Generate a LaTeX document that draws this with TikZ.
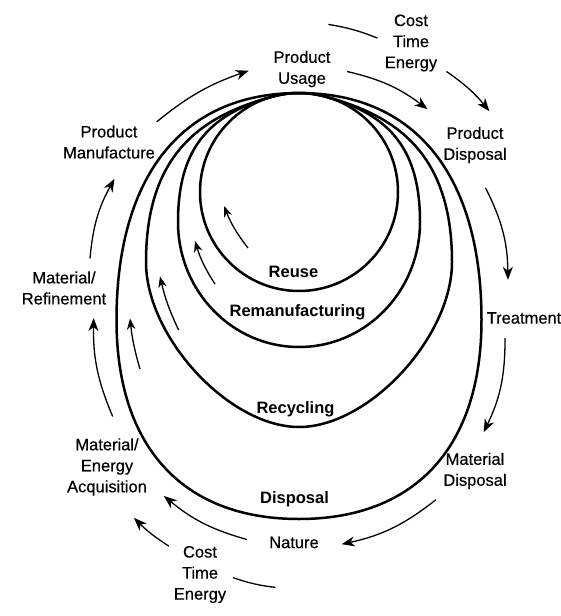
\documentclass[tikz,border=0pt]{standalone}
\usepackage{fontspec}
\setmainfont{Liberation Sans}
\newfontfamily\labfont[FakeBold=0.4]{Liberation Sans}
\usetikzlibrary{arrows.meta}
\begin{document}
\begin{tikzpicture}[x=1pt,y=-1pt,
  lab/.style={font=\labfont\fontsize{16.5}{21}\selectfont, align=center, inner sep=0pt},
  blab/.style={font=\fontsize{16.5}{21}\selectfont\bfseries, align=center, inner sep=0pt},
  loopline/.style={line width=2.5pt},
  arr/.style={line width=1.3pt, -{Stealth[length=13pt,width=10pt,inset=4pt]}},
  iarr/.style={line width=1.3pt, -{Stealth[length=11pt,width=8.5pt,inset=3.5pt]}},
  seg/.style={line width=1.3pt}]
\useasboundingbox (0,0) rectangle (561,616);
\fill[white] (0,0) rectangle (561,616);

% loops (all meet at the top)
\draw[loopline] (299,192) circle[radius=99];
\draw[loopline] (324.6,96.4) arc[start angle=-75, end angle=-105, radius=99]
  .. controls (205.8,114.5) and (178,152) .. (178,222)
  .. controls (178,291) and (232,347) .. (299,347)
  .. controls (366,347) and (420,291) .. (420,222)
  .. controls (420,152) and (392.2,114.5) .. (324.6,96.4) -- cycle;
\draw[loopline] (324.6,96.4) arc[start angle=-75, end angle=-105, radius=99]
  .. controls (205.8,114.5) and (146,150) .. (146,262)
  .. controls (146,337) and (229,427) .. (299,427)
  .. controls (369,427) and (452,337) .. (452,262)
  .. controls (452,150) and (392.2,114.5) .. (324.6,96.4) -- cycle;
\draw[loopline] (299,93) .. controls (179,93) and (116.5,180) .. (116.5,320)
  .. controls (116.5,445) and (181,519) .. (299,519)
  .. controls (417,519) and (481.5,445) .. (481.5,320)
  .. controls (481.5,180) and (419,93) .. (299,93) -- cycle;

% labels
\node[lab] (pu) at (302,69) {Product\\Usage};
\node[lab] (cost1) at (411,43) {Cost\\Time\\Energy};
\node[lab] (pd) at (475,145) {Product\\Disposal};
\node[lab] (tr) at (524,318) {Treatment};
\node[lab] (md) at (475,471) {Material\\Disposal};
\node[lab] (na) at (294,542.5) {Nature};
\node[lab] (cost2) at (200,574.5) {Cost\\Time\\Energy};
\node[lab] (mea) at (107,467) {Material/\\Energy\\Acquisition};
\node[lab] (mr) at (64,288) {Material/\\Refinement};
\node[lab] (pm) at (109,142) {Product\\Manufacture};

\node[blab] (reuse) at (293.5,272) {Reuse};
\node[blab] (reman) at (297.5,312) {Remanufacturing};
\node[blab] (recyc) at (295.5,409.5) {Recycling};
\node[blab] (disp) at (294.5,499) {Disposal};

% connector end points
\coordinate (a1s) at (156.7,121.8); \coordinate (a1e) at (248.7,70.7);
\coordinate (a2s) at (347,71.5);    \coordinate (a2e) at (427.5,109.2);
\coordinate (a3s) at (328.4,24.4);  \coordinate (a3m) at (377.5,38.1);
\coordinate (a3n) at (446.5,71.5);  \coordinate (a3e) at (489.4,111.2);
\coordinate (a4s) at (485.5,187.8); \coordinate (a4e) at (508,279.8);
\coordinate (a5s) at (505,338);     \coordinate (a5e) at (483.7,432.2);
\coordinate (a6s) at (435.8,499.8); \coordinate (a6e) at (341.7,544.2);
\coordinate (a7s) at (246.9,539.5); \coordinate (a7e) at (163.9,495.9);
\coordinate (a8s) at (275.5,587.4); \coordinate (a8m) at (233,577.6);
\coordinate (a8n) at (168.9,546.2); \coordinate (a8e) at (134,517.9);
\coordinate (a9s) at (112.7,416.5); \coordinate (a9e) at (93.7,318);
\coordinate (a10s) at (90,258.5);   \coordinate (a10e) at (114.5,178.8);

\draw[arr] (a1s) to[bend left=10] (a1e);
\draw[arr] (a2s) to[bend left=12] (a2e);
\draw[seg] (a3s) to[bend left=6] (a3m);
\draw[arr] (a3n) to[bend left=8] (a3e);
\draw[arr] (a4s) to[bend left=13] (a4e);
\draw[arr] (a5s) to[bend left=13] (a5e);
\draw[arr] (a6s) to[bend left=13] (a6e);
\draw[arr] (a7s) to[bend left=12] (a7e);
\draw[seg] (a8s) to[bend left=6] (a8m);
\draw[arr] (a8n) to[bend left=6] (a8e);
\draw[arr] (a9s) to[bend left=12] (a9e);
\draw[arr] (a10s) to[bend left=12] (a10e);

% inner arrows
\coordinate (i1s) at (248,248);   \coordinate (i1e) at (224,206);
\coordinate (i2s) at (215,284);   \coordinate (i2e) at (195,241);
\coordinate (i3s) at (178.6,330); \coordinate (i3e) at (160,276.5);
\coordinate (i4s) at (140,369);   \coordinate (i4e) at (130,318.5);
\draw[iarr] (i1s) to[bend left=8] (i1e);
\draw[iarr] (i2s) to[bend left=8] (i2e);
\draw[iarr] (i3s) to[bend left=6] (i3e);
\draw[iarr] (i4s) to[bend left=5] (i4e);
\end{tikzpicture}
\end{document}
